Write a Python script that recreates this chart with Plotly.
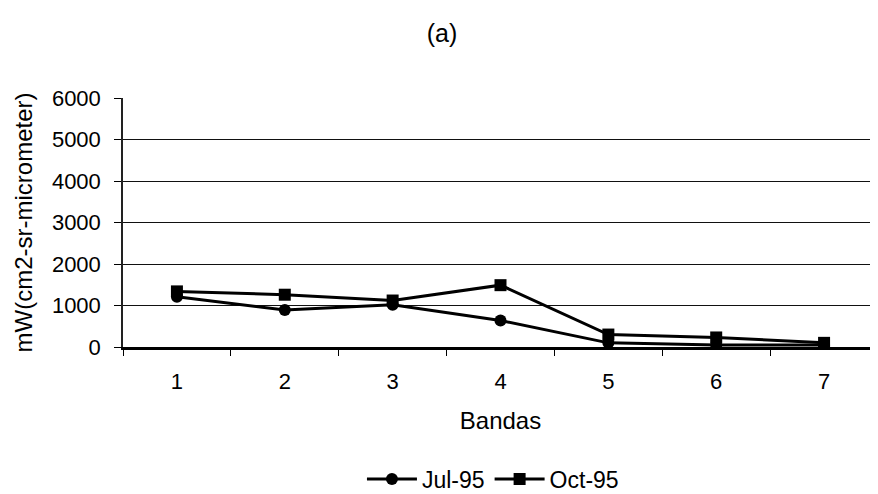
import plotly.graph_objects as go

bandas = ["1", "2", "3", "4", "5", "6", "7"]
jul95 = [1210, 890, 1020, 640, 100, 50, 50]
oct95 = [1340, 1260, 1120, 1490, 300, 230, 100]
yticks = [0, 1000, 2000, 3000, 4000, 5000, 6000]

font = "Liberation Sans, Arial, sans-serif"

fig = go.Figure()
fig.add_trace(go.Scatter(x=bandas, y=jul95, name="Jul-95", mode="lines+markers",
                         line=dict(color="black", width=3),
                         marker=dict(symbol="circle", size=12, color="black")))
fig.add_trace(go.Scatter(x=bandas, y=oct95, name="Oct-95", mode="lines+markers",
                         line=dict(color="black", width=3),
                         marker=dict(symbol="square", size=12, color="black")))

W, H = 870, 486
fig.update_layout(
    width=W, height=H,
    paper_bgcolor="white", plot_bgcolor="white",
    margin=dict(l=115, r=0, t=90, b=147, autoexpand=False),
    font=dict(family=font, size=22, color="black"),
    title=dict(text="(a)", x=434/W, xanchor="center", y=1-25/H, yanchor="middle",
               font=dict(family=font, size=25, color="black")),
    showlegend=True,
    legend=dict(orientation="h", x=0.49, xanchor="center", y=-0.53, yanchor="middle",
                font=dict(family=font, size=23, color="black"), itemwidth=50,
                tracegroupgap=0),
    xaxis=dict(type="category", range=[-0.5, 6.5], tickson="boundaries",
               ticks="outside", ticklen=6, tickcolor="black",
               showline=True, linecolor="black", linewidth=2.5,
               showgrid=False, tickfont=dict(size=22), automargin=False,
               ticklabelstandoff=13,
               title=dict(text="Bandas", font=dict(size=24), standoff=20)),
    yaxis=dict(range=[0, 6000], tickvals=yticks, ticks="outside", ticklen=7,
               tickcolor="black", showline=True, linecolor="#222", linewidth=1.5,
               showgrid=True, gridcolor="#111", gridwidth=1, zeroline=False,
               tickfont=dict(size=22), automargin=False, ticklabelstandoff=9,
               title=dict(text="mW(cm2-sr-micrometer)", font=dict(size=24), standoff=12)),
)

fig.write_html("out.html")
